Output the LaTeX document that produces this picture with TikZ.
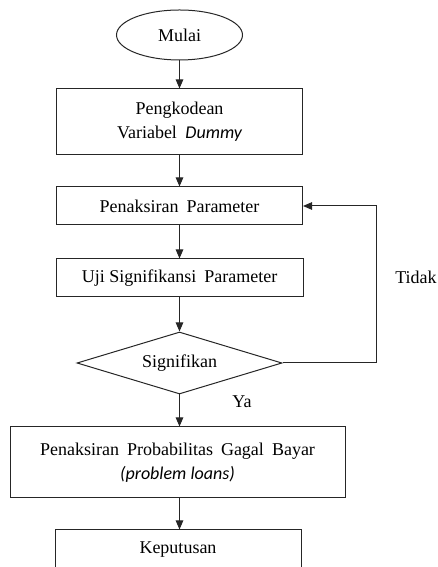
\documentclass[tikz,border=0pt]{standalone}
\usepackage{fontspec}
\setmainfont{Liberation Serif}
\newfontfamily\calib{Carlito}
\usetikzlibrary{shapes.geometric,arrows.meta}
\begin{document}
\begin{tikzpicture}[x=1pt,y=1pt,
  every node/.style={font=\fontsize{18}{24}\selectfont},
  box/.style={draw=black!85,line width=1pt,rectangle,align=center,inner sep=0pt},
  arr/.style={draw=black!85,line width=1pt,-{Triangle[length=9pt,width=7.5pt]}},
  lbl/.style={inner sep=0pt}]
\clip (0,0) rectangle (438,567);
\useasboundingbox (0,0) rectangle (438,567);
\node[draw=black!85,line width=1pt,ellipse,minimum width=126,minimum height=50,inner sep=0pt] (start) at (179.5,532) {Mulai};
\node[box,minimum width=246,minimum height=66] (b1) at (179.5,445) {Pengkodean\\Variabel \hspace{4pt}{\calib\itshape Dummy}};
\node[box,minimum width=246,minimum height=38] (b2) at (179.5,361) {Penaksiran\hspace{8pt}Parameter};
\node[box,minimum width=247,minimum height=38] (b3) at (179.5,289) {Uji Signifikansi\hspace{8pt}Parameter};
\node[draw=black!85,line width=1pt,diamond,minimum width=205,minimum height=62,inner sep=0pt,aspect=3.3] (dia) at (179.5,204) {Signifikan};
\node[box,minimum width=335,minimum height=71] (b4) at (177.5,104.5) {Penaksiran\hspace{8pt}Probabilitas\hspace{8pt}Gagal\hspace{8pt}Bayar\\{\calib\itshape (problem loans)}};
\node[box,minimum width=246,minimum height=40] (b5) at (178,17) {Keputusan};
\node[lbl] (ya) at (242,165) {Ya};
\node[lbl] (tidak) at (416,290) {Tidak};
\draw[arr] (start) -- (b1);
\draw[arr] (b1) -- (b2);
\draw[arr] (b2) -- (b3);
\draw[arr] (b3) -- (dia);
\draw[arr] (dia) -- (dia |- b4.north);
\draw[arr] (b4.south -| dia) -- (dia |- b5.north);
\draw[arr] (dia.east) -- ++(94,0) |- (b2.east);
\end{tikzpicture}
\end{document}
